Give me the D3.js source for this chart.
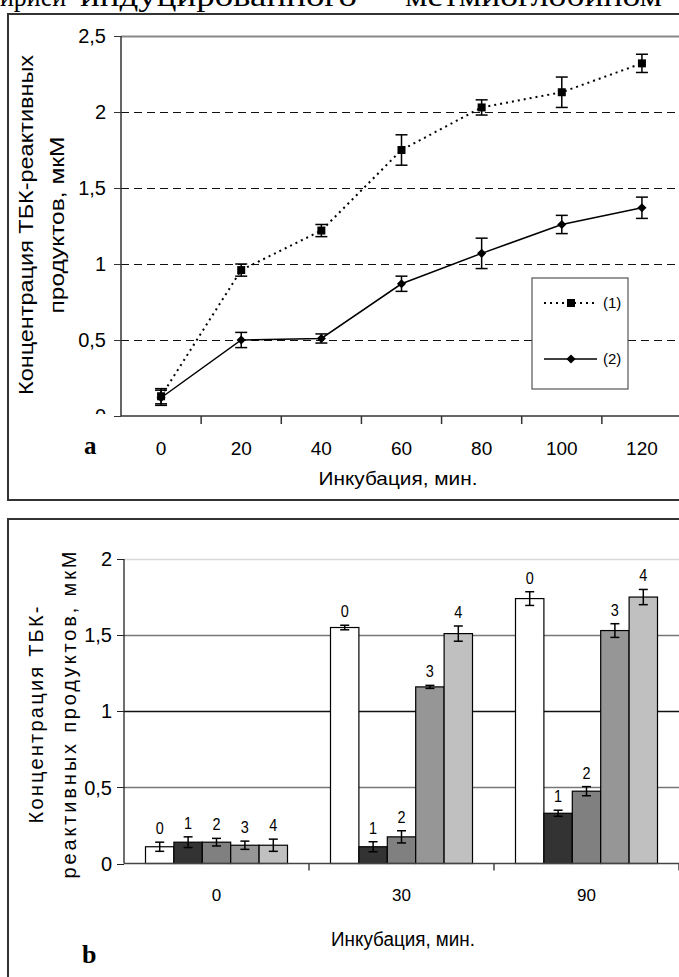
<!DOCTYPE html>
<html>
<head>
<meta charset="utf-8">
<script src="https://cdn.jsdelivr.net/npm/d3@7"></script>
<style>
  body { margin: 0; background: #fff; }
  svg { display: block; }
</style>
</head>
<body>
<script>
var WIDTH = 679, HEIGHT = 977;

// chart a: incubation time vs concentration
var timesA = [0, 20, 40, 60, 80, 100, 120];
var series1 = [0.13, 0.96, 1.22, 1.75, 2.03, 2.13, 2.32];
var err1 = [0.05, 0.04, 0.04, 0.10, 0.05, 0.10, 0.06];
var series2 = [0.12, 0.50, 0.51, 0.87, 1.07, 1.26, 1.37];
var err2 = [0.05, 0.05, 0.03, 0.05, 0.10, 0.06, 0.07];
var ticksA = [0, 0.5, 1, 1.5, 2, 2.5];
var legendLabels = ['(1)', '(2)'];

// chart b: grouped bars
var groupsB = ['0', '30', '90'];
var barKeys = ['0', '1', '2', '3', '4'];
var valuesB = [
    [0.11, 0.14, 0.14, 0.12, 0.12],
    [1.55, 0.11, 0.175, 1.16, 1.51],
    [1.74, 0.33, 0.475, 1.53, 1.75]
];
var errB = [
    [0.03, 0.035, 0.025, 0.027, 0.04],
    [0.015, 0.033, 0.04, 0.01, 0.05],
    [0.045, 0.02, 0.03, 0.045, 0.05]
];
var ticksB = [0, 0.5, 1, 1.5, 2];

var BAR_COLORS = ['#ffffff', '#333333', '#808080', '#969696', '#c0c0c0'];
var SANS = '"Liberation Sans", Arial, sans-serif';
var SERIF = '"Liberation Serif", "Times New Roman", serif';

function fmt(d) { return String(d).replace('.', ','); }
function crisp(v) { return Math.round(v) + 0.5; }

var svg = d3.select('body').append('svg').attr('width', WIDTH).attr('height', HEIGHT);
svg.append('rect').attr('width', WIDTH).attr('height', HEIGHT).attr('fill', '#fff');

// page text cut off at the top
var head = [['ирией', 0, 66], ['индуцированного', 80, 277], ['метмиоглобином', 405, 257]];
svg.selectAll('text.head').data(head).enter().append('text')
    .attr('class', 'head')
    .attr('x', d => d[1]).attr('y', 6)
    .attr('textLength', d => d[2]).attr('lengthAdjust', 'spacingAndGlyphs')
    .attr('font-family', SERIF).attr('font-size', 29)
    .text(d => d[0]);

// ---------- chart a ----------
svg.append('rect').attr('x', 8).attr('y', 14).attr('width', 700).attr('height', 486)
    .attr('fill', 'none').attr('stroke', '#333').attr('stroke-width', 2);

var xA = d3.scaleBand().domain(timesA).range([121, 682]);
var yA = d3.scaleLinear().domain([0, 2.5]).range([416, 36]);
var cx = t => xA(t) + xA.bandwidth() / 2;

var ga = svg.append('g');

ga.selectAll('line.grid').data(ticksA.filter(d => d > 0)).enter().append('line')
    .attr('x1', 121).attr('x2', 682)
    .attr('y1', d => crisp(yA(d))).attr('y2', d => crisp(yA(d)))
    .attr('stroke', d => d === 2.5 ? '#888' : '#111')
    .attr('stroke-width', d => d === 2.5 ? 2 : 1.2)
    .attr('stroke-dasharray', d => d === 2.5 ? null : '8,5');

// axes
ga.append('line').attr('x1', 121).attr('x2', 121).attr('y1', yA(2.5)).attr('y2', yA(0))
    .attr('stroke', '#333').attr('stroke-width', 1.5);
ga.append('line').attr('x1', 121).attr('x2', 682).attr('y1', yA(0)).attr('y2', yA(0))
    .attr('stroke', '#333').attr('stroke-width', 1.5);
ga.selectAll('line.ytick').data(ticksA).enter().append('line')
    .attr('x1', 114).attr('x2', 121).attr('y1', d => crisp(yA(d))).attr('y2', d => crisp(yA(d)))
    .attr('stroke', '#333').attr('stroke-width', 1);
ga.selectAll('line.xtick').data(timesA.slice(1).concat(['end'])).enter().append('line')
    .attr('x1', (d, i) => 121 + (i + 1) * xA.bandwidth())
    .attr('x2', (d, i) => 121 + (i + 1) * xA.bandwidth())
    .attr('y1', yA(0)).attr('y2', yA(0) + 8)
    .attr('stroke', '#333').attr('stroke-width', 1.5);

svg.append('clipPath').attr('id', 'clipA').append('rect')
    .attr('x', 0).attr('y', 0).attr('width', 121).attr('height', 414);
ga.append('g').attr('clip-path', 'url(#clipA)')
    .selectAll('text').data(ticksA).enter().append('text')
    .attr('x', 106).attr('y', d => yA(d)).attr('dy', '0.36em')
    .attr('text-anchor', 'end').attr('font-family', SANS).attr('font-size', 20)
    .text(fmt);

ga.selectAll('text.xlab').data(timesA).enter().append('text')
    .attr('class', 'xlab')
    .attr('x', cx).attr('y', 455)
    .attr('text-anchor', 'middle').attr('font-family', SANS).attr('font-size', 19)
    .text(d => d);

ga.append('text').attr('x', 398).attr('y', 485).attr('text-anchor', 'middle')
    .attr('font-family', SANS).attr('font-size', 19)
    .attr('textLength', 159).attr('lengthAdjust', 'spacingAndGlyphs')
    .text('Инкубация, мин.');
ga.append('text').attr('x', 84).attr('y', 454)
    .attr('font-family', SERIF).attr('font-weight', 'bold').attr('font-size', 25)
    .text('a');

var titleA = ga.append('g').attr('transform', 'translate(0,225) rotate(-90)');
titleA.append('text').attr('x', 0).attr('y', 33).attr('text-anchor', 'middle')
    .attr('font-family', SANS).attr('font-size', 20)
    .attr('textLength', 340).attr('lengthAdjust', 'spacingAndGlyphs')
    .text('Концентрация ТБК-реактивных');
titleA.append('text').attr('x', 0).attr('y', 64).attr('text-anchor', 'middle')
    .attr('font-family', SANS).attr('font-size', 20)
    .attr('textLength', 177).attr('lengthAdjust', 'spacingAndGlyphs')
    .text('продуктов, мкМ');

// lines
var lineA = d3.line().x((d, i) => cx(timesA[i])).y(d => yA(d));
ga.append('path').attr('d', lineA(series1)).attr('fill', 'none')
    .attr('stroke', '#000').attr('stroke-width', 2).attr('stroke-dasharray', '2,4');
ga.append('path').attr('d', lineA(series2)).attr('fill', 'none')
    .attr('stroke', '#000').attr('stroke-width', 1.5);

function errorBars(g, vals, errs, xf, yf, cap) {
    var e = g.append('g').attr('stroke', '#000').attr('stroke-width', 1.5);
    vals.forEach(function (v, i) {
        var x = xf(i), y1 = yf(v + errs[i]), y2 = yf(v - errs[i]);
        e.append('line').attr('x1', x).attr('x2', x).attr('y1', y1).attr('y2', y2);
        e.append('line').attr('x1', x - cap / 2).attr('x2', x + cap / 2).attr('y1', y1).attr('y2', y1);
        e.append('line').attr('x1', x - cap / 2).attr('x2', x + cap / 2).attr('y1', y2).attr('y2', y2);
    });
}
errorBars(ga, series1, err1, i => cx(timesA[i]), yA, 12);
errorBars(ga, series2, err2, i => cx(timesA[i]), yA, 12);

var square = d3.symbol(d3.symbolSquare, 64);
var diamond = d3.symbol(d3.symbolSquare, 42);
ga.selectAll('path.sq').data(series1).enter().append('path')
    .attr('d', square).attr('fill', '#000')
    .attr('transform', (d, i) => 'translate(' + cx(timesA[i]) + ',' + yA(d) + ')');
ga.selectAll('path.dm').data(series2).enter().append('path')
    .attr('d', diamond).attr('fill', '#000')
    .attr('transform', (d, i) => 'translate(' + cx(timesA[i]) + ',' + yA(d) + ') rotate(45)');

// legend
var leg = ga.append('g');
leg.append('rect').attr('x', 532).attr('y', 278).attr('width', 96).attr('height', 111)
    .attr('fill', '#fff').attr('stroke', '#555').attr('stroke-width', 1.2);
legendLabels.forEach(function (lab, i) {
    var y = i === 0 ? 303 : 359;
    leg.append('line').attr('x1', 544).attr('x2', 597).attr('y1', y).attr('y2', y)
        .attr('stroke', '#000').attr('stroke-width', i === 0 ? 2 : 1.5)
        .attr('stroke-dasharray', i === 0 ? '2,4' : null);
    leg.append('path').attr('d', i === 0 ? square : diamond).attr('fill', '#000')
        .attr('transform', 'translate(571,' + y + ')' + (i === 0 ? '' : ' rotate(45)'));
    leg.append('text').attr('x', 603).attr('y', y).attr('dy', '0.36em')
        .attr('font-family', SANS).attr('font-size', 15).text(lab);
});

// ---------- chart b ----------
svg.append('rect').attr('x', 8).attr('y', 519).attr('width', 700).attr('height', 500)
    .attr('fill', 'none').attr('stroke', '#333').attr('stroke-width', 2);

var xB = d3.scaleBand().domain(groupsB).range([124, 679]);
var xInner = d3.scaleBand().domain(barKeys).range([0, xB.bandwidth()]).paddingOuter(0.757);
var yB = d3.scaleLinear().domain([0, 2]).range([863.5, 559]);
var gridColors = { 0.5: '#777', 1: '#111', 1.5: '#777', 2: '#d8d8d8' };

var gb = svg.append('g');
gb.selectAll('line.grid').data(ticksB.filter(d => d > 0)).enter().append('line')
    .attr('x1', 124).attr('x2', 679)
    .attr('y1', d => crisp(yB(d))).attr('y2', d => crisp(yB(d)))
    .attr('stroke', d => gridColors[d]).attr('stroke-width', 1.3);

gb.append('line').attr('x1', 124).attr('x2', 124).attr('y1', yB(2)).attr('y2', yB(0))
    .attr('stroke', '#222').attr('stroke-width', 1.3);
gb.selectAll('line.ytick').data(ticksB).enter().append('line')
    .attr('x1', 117).attr('x2', 124).attr('y1', d => crisp(yB(d))).attr('y2', d => crisp(yB(d)))
    .attr('stroke', '#222').attr('stroke-width', 1);
gb.selectAll('text.ylab').data(ticksB).enter().append('text')
    .attr('x', 112).attr('y', d => yB(d)).attr('dy', '0.36em')
    .attr('text-anchor', 'end').attr('font-family', SANS).attr('font-size', 20)
    .text(fmt);

var groups = gb.selectAll('g.group').data(groupsB).enter().append('g')
    .attr('transform', d => 'translate(' + xB(d) + ',0)');

groups.each(function (grp, gi) {
    var g = d3.select(this);
    g.selectAll('rect').data(valuesB[gi]).enter().append('rect')
        .attr('x', (d, i) => xInner(barKeys[i]))
        .attr('y', d => yB(d))
        .attr('width', xInner.bandwidth())
        .attr('height', d => yB(0) - yB(d))
        .attr('fill', (d, i) => BAR_COLORS[i])
        .attr('stroke', '#000').attr('stroke-width', 1.2);
    errorBars(g, valuesB[gi], errB[gi], i => xInner(barKeys[i]) + xInner.bandwidth() / 2, yB, 9);
    g.selectAll('text').data(valuesB[gi]).enter().append('text')
        .attr('x', (d, i) => xInner(barKeys[i]) + xInner.bandwidth() / 2)
        .attr('y', (d, i) => yB(d + errB[gi][i]) - 8)
        .attr('text-anchor', 'middle').attr('font-family', SANS).attr('font-size', 17)
        .attr('transform', (d, i) => {
            var x = xInner(barKeys[i]) + xInner.bandwidth() / 2;
            return 'translate(' + x + ',0) scale(0.85,1) translate(' + (-x) + ',0)';
        })
        .text((d, i) => barKeys[i]);
});

gb.append('line').attr('x1', 124).attr('x2', 679).attr('y1', yB(0)).attr('y2', yB(0))
    .attr('stroke', '#444').attr('stroke-width', 1.5);
gb.selectAll('line.xtick').data(groupsB).enter().append('line')
    .attr('x1', d => xB(d) + xB.bandwidth()).attr('x2', d => xB(d) + xB.bandwidth())
    .attr('y1', yB(0)).attr('y2', yB(0) + 7)
    .attr('stroke', '#444').attr('stroke-width', 1.5);
gb.selectAll('text.xlab').data(groupsB).enter().append('text')
    .attr('x', d => xB(d) + xB.bandwidth() / 2).attr('y', 901)
    .attr('text-anchor', 'middle').attr('font-family', SANS).attr('font-size', 17)
    .text(d => d);

gb.append('text').attr('x', 403).attr('y', 946).attr('text-anchor', 'middle')
    .attr('font-family', SANS).attr('font-size', 20)
    .attr('textLength', 144).attr('lengthAdjust', 'spacingAndGlyphs')
    .text('Инкубация, мин.');
gb.append('text').attr('x', 82).attr('y', 963)
    .attr('font-family', SERIF).attr('font-weight', 'bold').attr('font-size', 26)
    .text('b');

var titleB = gb.append('g').attr('transform', 'translate(0,715) rotate(-90)');
titleB.append('text').attr('x', 0).attr('y', 43).attr('text-anchor', 'middle')
    .attr('font-family', SANS).attr('font-size', 20)
    .attr('textLength', 217).attr('lengthAdjust', 'spacing')
    .text('Концентрация ТБК-');
titleB.append('text').attr('x', 0).attr('y', 76).attr('text-anchor', 'middle')
    .attr('font-family', SANS).attr('font-size', 20)
    .attr('textLength', 327).attr('lengthAdjust', 'spacing')
    .text('реактивных продуктов, мкМ');
</script>
</body>
</html>
